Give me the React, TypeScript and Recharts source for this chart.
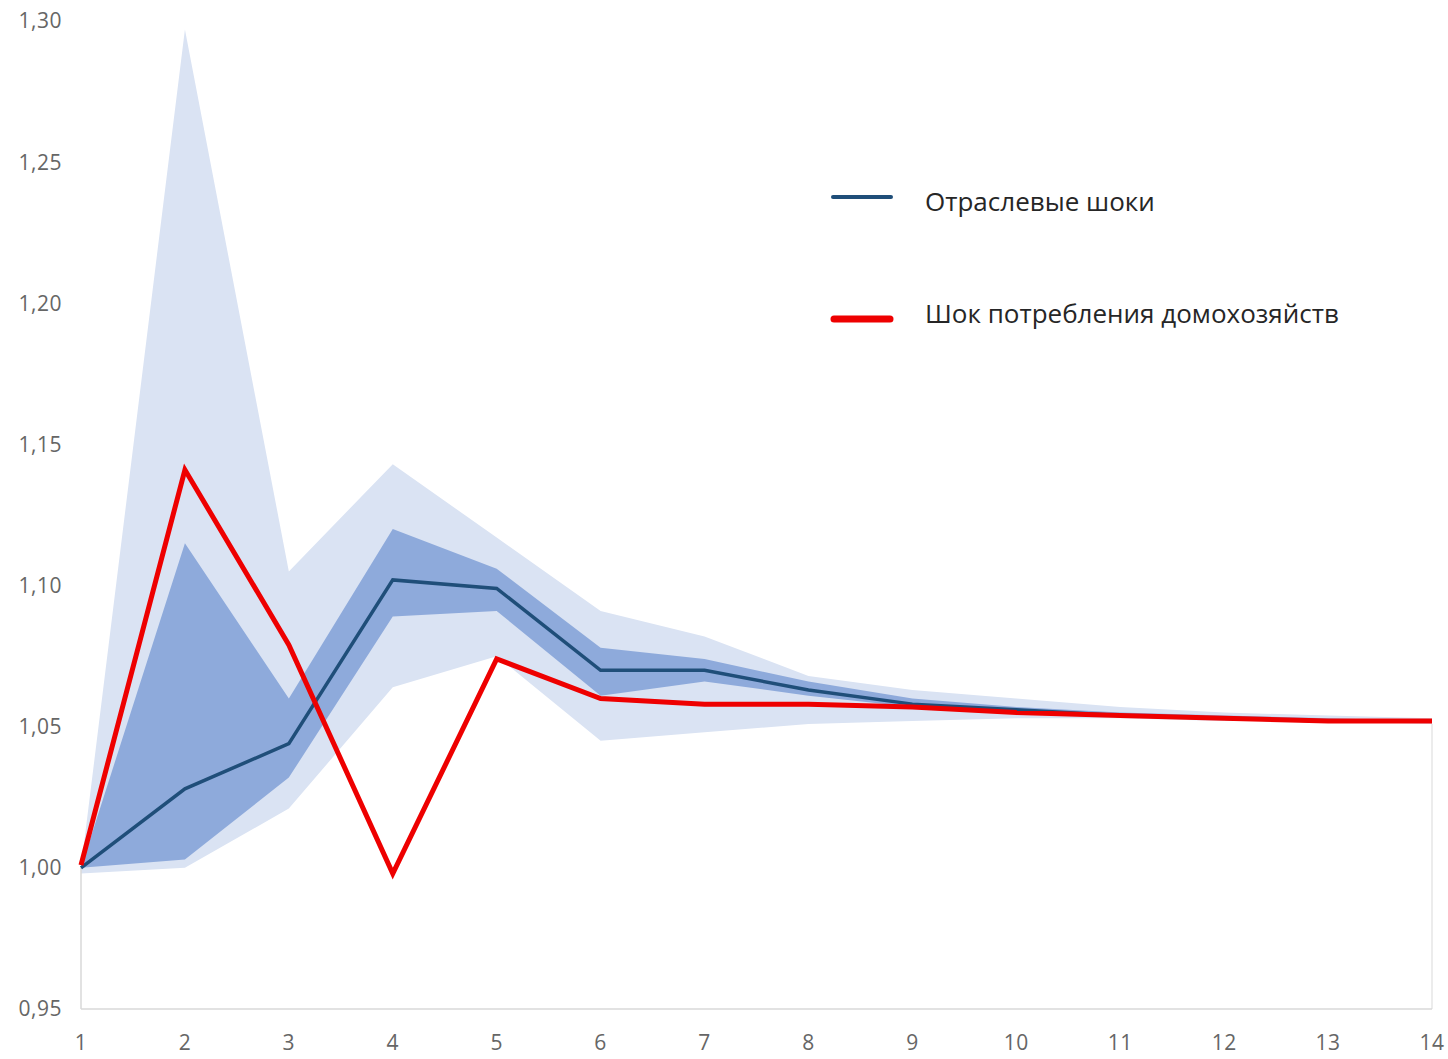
import {
  ComposedChart,
  Area,
  Line,
  XAxis,
  YAxis,
  ReferenceLine,
} from 'recharts';

// horizon, quarters after the shock
const periods = [1, 2, 3, 4, 5, 6, 7, 8, 9, 10, 11, 12, 13, 14];

// median response to sectoral shocks
const sectoralShock = [1.0, 1.028, 1.044, 1.102, 1.099, 1.07, 1.07, 1.063, 1.058, 1.056, 1.054, 1.053, 1.052, 1.052];

// response to the household consumption shock
const householdShock = [1.001, 1.141, 1.079, 0.998, 1.074, 1.06, 1.058, 1.058, 1.057, 1.055, 1.054, 1.053, 1.052, 1.052];

// inner (darker) band around the sectoral median
const innerLow = [1.0, 1.003, 1.032, 1.089, 1.091, 1.061, 1.066, 1.061, 1.057, 1.055, 1.054, 1.053, 1.052, 1.052];
const innerHigh = [1.0, 1.115, 1.06, 1.12, 1.106, 1.078, 1.074, 1.066, 1.06, 1.057, 1.055, 1.054, 1.053, 1.052];

// outer (lighter) band
const outerLow = [0.998, 1.0, 1.021, 1.064, 1.075, 1.045, 1.048, 1.051, 1.052, 1.053, 1.053, 1.052, 1.052, 1.051];
const outerHigh = [1.0, 1.297, 1.105, 1.143, 1.117, 1.091, 1.082, 1.068, 1.063, 1.06, 1.057, 1.055, 1.054, 1.053];

const yTicks = [0.95, 1.0, 1.05, 1.1, 1.15, 1.2, 1.25, 1.3];

const seriesNames = ['Отраслевые шоки', 'Шок потребления домохозяйств'];

const rows = periods.map((p, i) => ({
  period: p,
  sectoral: sectoralShock[i],
  household: householdShock[i],
  inner: [innerLow[i], innerHigh[i]],
  outer: [outerLow[i], outerHigh[i]],
}));

const fmt = (v: number) => v.toFixed(2).replace('.', ',');

const tickStyle = {
  fill: '#666666',
  fontSize: 21,
  fontFamily: '"Open Sans", sans-serif',
  letterSpacing: 0.5,
};

const legendText = {
  position: 'absolute' as const,
  left: 925,
  fontSize: 26,
  fontFamily: '"Open Sans", sans-serif',
  color: '#262626',
  whiteSpace: 'nowrap' as const,
  lineHeight: '32px',
};

export default function App() {
  const last = periods.length - 1;
  return (
    <div style={{ position: 'absolute', left: 0, top: 0, width: 1448, height: 1059, background: '#fff' }}>
      <ComposedChart
        width={1448}
        height={1059}
        data={rows}
        margin={{ top: 21, right: 16, bottom: 20, left: 0 }}
      >
        <XAxis
          dataKey="period"
          type="number"
          domain={[1, 14]}
          ticks={periods}
          tickLine={false}
          tickSize={0}
          tickMargin={26}
          height={30}
          axisLine={{ stroke: '#d9d9d9', strokeWidth: 1.5 }}
          tick={tickStyle}
        />
        <YAxis
          type="number"
          domain={[0.95, 1.3]}
          ticks={yTicks}
          tickFormatter={fmt}
          axisLine={false}
          tickLine={false}
          tickSize={0}
          tickMargin={19}
          width={81}
          tick={tickStyle}
        />
        <Area
          dataKey="outer"
          type="linear"
          stroke="none"
          fill="#dae3f3"
          fillOpacity={1}
          isAnimationActive={false}
          activeDot={false}
        />
        <Area
          dataKey="inner"
          type="linear"
          stroke="none"
          fill="#8eaadb"
          fillOpacity={1}
          isAnimationActive={false}
          activeDot={false}
        />
        {/* faint edges of the empty area below the bands */}
        <ReferenceLine
          segment={[{ x: periods[0], y: 0.95 }, { x: periods[0], y: outerLow[1] }]}
          stroke="#d9d9d9"
          strokeWidth={1.5}
        />
        <ReferenceLine
          segment={[{ x: periods[last], y: 0.95 }, { x: periods[last], y: outerLow[last] }]}
          stroke="#e6e6e6"
          strokeWidth={1.5}
        />
        <Line
          dataKey="sectoral"
          type="linear"
          stroke="#1f4e79"
          strokeWidth={3.5}
          dot={false}
          activeDot={false}
          isAnimationActive={false}
        />
        <Line
          dataKey="household"
          type="linear"
          stroke="#ee0000"
          strokeWidth={5}
          strokeLinejoin="miter"
          dot={false}
          activeDot={false}
          isAnimationActive={false}
        />
      </ComposedChart>

      <svg style={{ position: 'absolute', left: 0, top: 0 }} width={1448} height={400}>
        <line x1={833} y1={197} x2={891} y2={197} stroke="#1f4e79" strokeWidth={4} strokeLinecap="round" />
        <line x1={834} y1={319} x2={890} y2={319} stroke="#ee0000" strokeWidth={7} strokeLinecap="round" />
      </svg>
      <div style={{ ...legendText, top: 185 }}>{seriesNames[0]}</div>
      <div style={{ ...legendText, top: 297 }}>{seriesNames[1]}</div>
    </div>
  );
}
